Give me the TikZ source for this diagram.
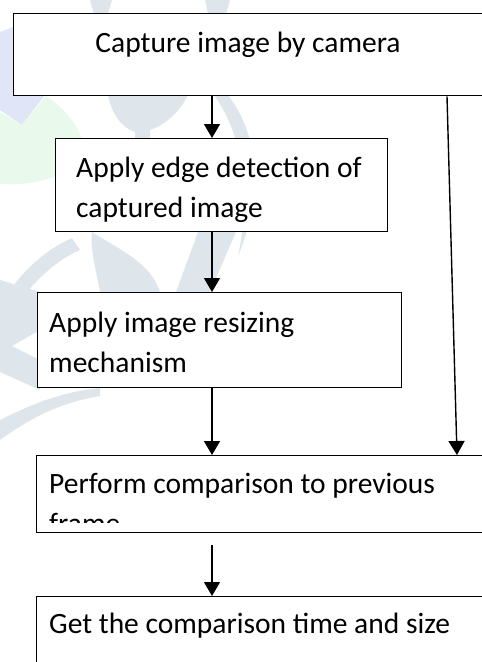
\documentclass[tikz,border=0pt]{standalone}
\usepackage{fontspec}
\setmainfont{Carlito}
\usetikzlibrary{arrows.meta}
\definecolor{wmgrey}{RGB}{223,230,235}
\definecolor{wmblue}{RGB}{224,229,247}
\definecolor{wmgreen}{RGB}{233,250,237}
\tikzset{
  box/.style={draw=black, line width=1.4pt, fill=white, rectangle,
    anchor=north west, inner sep=0pt},
  lbl/.style={anchor=base west, inner sep=0pt, align=left,
    font=\fontsize{29.5}{40}\selectfont},
  arr/.style={line width=1.4pt, -{Triangle[width=16pt,length=14pt]}},
  wm/.style={fill=wmgrey, draw=none},
}
\begin{document}
\begin{tikzpicture}[x=1pt,y=-1pt]
\useasboundingbox (0,0) rectangle (482,662);

% faint background watermark
\fill[wmblue] (0,32) -- (13,27) -- (60,27) -- (60,95) -- (45,95) -- (22,125) -- (0,110) -- cycle;
\fill[wmgreen] (0,112) -- (22,125) -- (46,96) .. controls (70,112) and (90,138) .. (80,160)
  .. controls (66,178) and (30,186) .. (0,184) -- cycle;
\fill[wm] (90,0) -- (112,0) -- (108,14) -- (94,14) -- cycle;
\fill[wm] (205,0) -- (230,0) -- (226,14) -- (208,14) -- cycle;
\fill[wm] (108,95) .. controls (112,115) and (122,128) .. (135,132) -- (135,142) -- (150,142)
  -- (150,130) .. controls (165,125) and (180,112) .. (188,95) -- cycle;
\fill[wm] (228,95) .. controls (262,140) and (262,200) .. (238,256)
  .. controls (250,200) and (246,140) .. (214,95) -- cycle;
\fill[wm] (0,305) .. controls (20,272) and (45,250) .. (72,238) -- (80,250)
  .. controls (52,262) and (28,288) .. (12,312) -- cycle;
\fill[wm] (92,232) .. controls (120,250) and (150,262) .. (160,292) -- (100,292)
  .. controls (96,270) and (90,250) .. (92,232) -- cycle;
\fill[wm] (198,232) -- (236,232) -- (210,292) -- (176,292) -- cycle;
\fill[wm] (0,280) -- (40,292) -- (40,330) -- (12,346) -- (40,360) -- (40,390) -- (0,372) -- cycle;
\fill[wm] (0,420) .. controls (30,405) and (60,392) .. (100,388) -- (100,396)
  .. controls (62,402) and (30,418) .. (0,440) -- cycle;

% process boxes
\node[box, minimum width=500pt, minimum height=82pt] (b1) at (13,13) {};
\node[box, minimum width=332pt, minimum height=93pt] (b2) at (55,138) {};
\node[box, minimum width=364pt, minimum height=95pt] (b3) at (37,292) {};
\node[box, minimum width=470pt, minimum height=77pt] (b4) at (36,455) {};
\node[box, minimum width=470pt, minimum height=90pt] (b5) at (36,596) {};

% box texts (anchored at the baseline of the last line)
\node[lbl, anchor=base] (t1) at (248,52) {Capture image by camera};
\node[lbl] (t2) at (76,217) {Apply edge detection of\\captured image};
\node[lbl] (t3) at (49,372) {Apply image resizing\\mechanism};
\begin{scope}
  \clip (37,456) rectangle (482,522);
  \node[lbl] (t4) at (49,533) {Perform comparison to previous\\frame};
\end{scope}
\node[lbl] (t5) at (49,633) {Get the comparison time and size};

% connectors
\coordinate (ax) at (212,0);
\draw[arr] (b1.south -| ax) -- (b2.north -| ax);
\draw[arr] (b2.south -| ax) -- (b3.north -| ax);
\draw[arr] (b3.south -| ax) -- (b4.north -| ax);
\draw[arr] ([yshift=-12pt]b4.south -| ax) -- (b5.north -| ax);
\draw[arr] ([xshift=434pt]b1.south west) -- ([xshift=421pt]b4.north west);
\end{tikzpicture}
\end{document}
